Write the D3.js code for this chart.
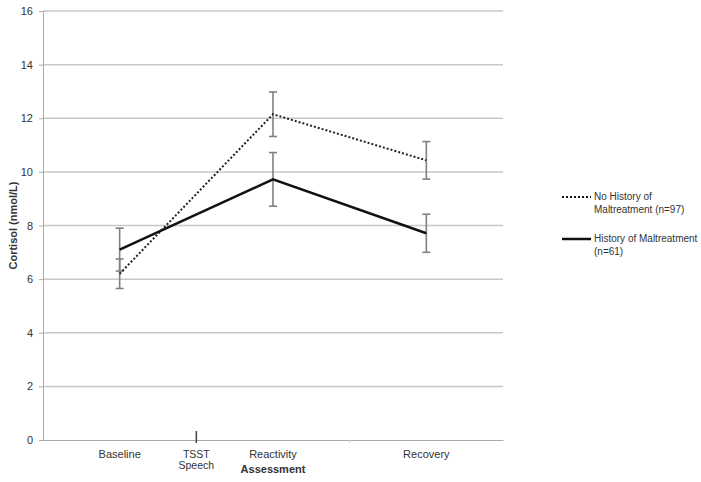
<!DOCTYPE html>
<html><head><meta charset="utf-8">
<script src="https://cdn.jsdelivr.net/npm/d3@7"></script>
<style>body{margin:0;background:#fff}svg{display:block}text{font-family:"Liberation Sans",Arial,sans-serif}</style>
</head><body><svg id="c" width="701" height="482"></svg>
<script>
const categories = ["Baseline","Reactivity","Recovery"];
const yTicks = [0,2,4,6,8,10,12,14,16];
const noHistory = [6.2, 12.15, 10.43];
const noHistoryErr = [0.55, 0.83, 0.7];
const history = [7.1, 9.72, 7.71];
const historyErr = [0.8, 1.0, 0.71];
const seriesNames = [["No History of","Maltreatment (n=97)"],["History of Maltreatment","(n=61)"]];
const markerLabel = ["TSST","Speech"];

const svg = d3.select("#c");
const L = 43, R = 503, T = 11, B = 440;
const x = d3.scaleBand().domain(categories).range([L,R]);
const y = d3.scaleLinear().domain([0,16]).range([B,T]);
const cx = c => x(c) + x.bandwidth()/2;

// gridlines
svg.append("g").selectAll("line").data(yTicks.filter(d=>d>0)).join("line")
  .attr("x1",L).attr("x2",R).attr("y1",d=>y(d)).attr("y2",d=>y(d))
  .attr("stroke","#c8c8c8").attr("stroke-width",1.5);

// y axis
const ya = svg.append("g").attr("transform",`translate(${L},0)`).call(d3.axisLeft(y).tickValues(yTicks).tickSize(4).tickPadding(6));
ya.select(".domain").attr("stroke","#aaa");
ya.selectAll(".tick line").attr("stroke","#aaa");
ya.selectAll("text").attr("font-size",11).attr("fill","#333");

// x axis
const xa = svg.append("g").attr("transform",`translate(0,${B})`).call(d3.axisBottom(x).tickSize(0).tickPadding(10));
xa.select(".domain").attr("stroke","#aaa");
xa.selectAll("text").attr("font-size",11).attr("fill","#333");
// boundary tick
svg.append("line").attr("x1",x("Recovery")).attr("x2",x("Recovery")).attr("y1",B).attr("y2",B+3).attr("stroke","#ccc");
// TSST marker
const tsstX = (cx("Baseline")+cx("Reactivity"))/2;
svg.append("line").attr("x1",tsstX).attr("x2",tsstX).attr("y1",B-9).attr("y2",B+3).attr("stroke","#444").attr("stroke-width",1.5);
svg.append("text").attr("x",tsstX).attr("y",B+18).attr("text-anchor","middle").attr("font-size",10.5).attr("fill","#333")
  .selectAll("tspan").data(markerLabel).join("tspan").attr("x",tsstX).attr("dy",(d,i)=>i?11:0).text(d=>d);

svg.append("text").attr("x",cx("Reactivity")).attr("y",B+33).attr("text-anchor","middle").attr("font-size",11).attr("font-weight","bold").attr("fill","#333").text("Assessment");
svg.append("text").attr("transform",`translate(17,${(T+B)/2}) rotate(-90)`).attr("text-anchor","middle").attr("font-size",11).attr("font-weight","bold").attr("fill","#333").text("Cortisol (nmol/L)");

// error bars
function errBars(vals, errs){
  const g = svg.append("g").attr("stroke","#808080").attr("stroke-width",1.6);
  categories.forEach((c,i)=>{
    const px = cx(c), hi = y(vals[i]+errs[i]), lo = y(vals[i]-errs[i]);
    g.append("line").attr("x1",px).attr("x2",px).attr("y1",hi).attr("y2",lo);
    g.append("line").attr("x1",px-4).attr("x2",px+4).attr("y1",hi).attr("y2",hi);
    g.append("line").attr("x1",px-4).attr("x2",px+4).attr("y1",lo).attr("y2",lo);
  });
}
errBars(history, historyErr);
errBars(noHistory, noHistoryErr);

const line = d3.line().x((d,i)=>cx(categories[i])).y(d=>y(d));
svg.append("path").datum(noHistory).attr("d",line).attr("fill","none").attr("stroke","#222").attr("stroke-width",2).attr("stroke-dasharray","2,2");
svg.append("path").datum(history).attr("d",line).attr("fill","none").attr("stroke","#111").attr("stroke-width",2.5);

// legend
const lg = svg.append("g");
const legendY = [197, 239];
const styles = [{dash:"2,2",w:2},{dash:null,w:2.5}];
seriesNames.forEach((n,i)=>{
  lg.append("line").attr("x1",562).attr("x2",591).attr("y1",legendY[i]).attr("y2",legendY[i])
    .attr("stroke","#111").attr("stroke-width",styles[i].w).attr("stroke-dasharray",styles[i].dash);
  lg.append("text").attr("x",594).attr("y",legendY[i]+3).attr("font-size",10).attr("fill","#333")
    .selectAll("tspan").data(n).join("tspan").attr("x",594).attr("dy",(d,j)=>j?12.5:0).text(d=>d);
});
</script></body></html>
